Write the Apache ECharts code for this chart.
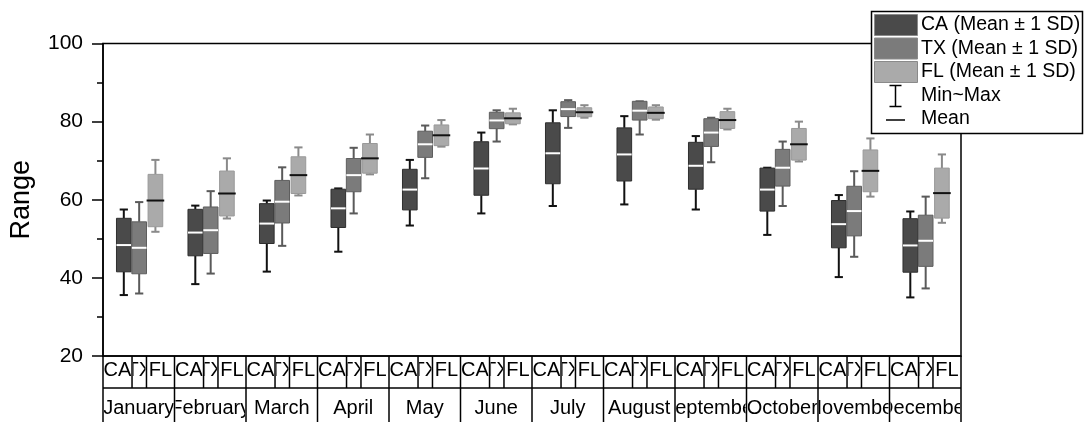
<!DOCTYPE html>
<html><head><meta charset="utf-8">
<script src="https://cdn.jsdelivr.net/npm/echarts@6/dist/echarts.min.js"></script>
<style>html,body{margin:0;padding:0;background:#fff}#c{width:1084px;height:422px}</style>
</head><body><div id="c"></div>
<script>
// ---- data ----
const months = ['January','February','March','April','May','June','July','August','September','October','November','December'];
const groupLabels = ['CA','TX','FL'];
const seriesNames = ['CA (Mean \u00b1 1 SD)','TX (Mean \u00b1 1 SD)','FL (Mean \u00b1 1 SD)'];
const legendExtra = ['Min~Max','Mean'];
const yAxisName = 'Range';
const yTicks = [20, 40, 60, 80, 100];

const caMean = [48.4, 51.6, 53.9, 57.8, 62.6, 68.0, 71.9, 71.6, 68.7, 62.6, 53.75, 48.3];
const caSD   = [6.85, 5.95, 5.1, 4.9, 5.2, 6.85, 7.8, 6.8, 6.0, 5.5, 6.05, 6.85];
const caMin  = [35.6, 38.4, 41.6, 46.7, 53.4, 56.5, 58.4, 58.8, 57.5, 51.0, 40.2, 35.0];
const caMax  = [57.5, 58.5, 59.8, 62.9, 70.2, 77.2, 82.9, 81.4, 76.3, 68.2, 61.2, 57.0];

const txMean = [47.7, 52.2, 59.5, 66.3, 74.2, 80.3, 83.2, 82.8, 77.2, 68.2, 57.1, 49.5];
const txSD   = [6.65, 5.95, 5.45, 4.25, 3.35, 2.1, 1.9, 2.4, 3.55, 4.7, 6.35, 6.55];
const txMin  = [36.0, 41.1, 48.2, 56.5, 65.5, 74.9, 78.4, 76.7, 69.6, 58.4, 45.4, 37.3];
const txMax  = [59.4, 62.2, 68.3, 73.3, 79.0, 82.9, 85.5, 85.2, 81.0, 74.9, 67.3, 60.8];

const flMean = [59.8, 61.6, 66.3, 70.6, 76.5, 80.85, 82.4, 82.25, 80.4, 74.2, 67.4, 61.7];
const flSD   = [6.7, 5.75, 4.7, 3.8, 2.65, 1.4, 1.15, 1.5, 2.15, 4.05, 5.35, 6.4];
const flMin  = [51.8, 55.2, 61.1, 66.5, 73.6, 79.3, 81.0, 80.5, 78.0, 69.8, 60.8, 54.1];
const flMax  = [70.2, 70.6, 73.4, 76.7, 80.4, 83.3, 84.2, 84.2, 83.3, 80.0, 75.7, 71.6];

// ---- styling / layout constants ----
const FONT = '"Liberation Sans", Arial, sans-serif';
const OFFS = [-0.209, 0.006, 0.233];      // box centre offset as fraction of band
const BOXW = 0.205;                       // box width fraction of band
const CAPW = 0.115;                       // whisker cap width fraction of band
const SPLIT = [0.406, 0.608];             // sub-cell dividers in the category table
const FILL = ['#4a4a4a', '#7b7b7b', '#aaaaaa'];
const EDGE = ['#2e2e2e', '#5e5e5e', '#999999'];
const WHISK = ['#111111', '#5a5a5a', '#8a8a8a'];
const MEANC = ['#ffffff', '#ffffff', '#111111'];
const ROW1 = 32, BOTTOM = 422;

const sets = [
  [caMean, caSD, caMin, caMax],
  [txMean, txSD, txMin, txMax],
  [flMean, flSD, flMin, flMax]
];

function boxRender(k) {
  return function (params, api) {
    const i = api.value(0);
    const mean = api.value(1), sd = api.value(2), mn = api.value(3), mx = api.value(4);
    const band = api.size([1, 0])[0];
    const pm = api.coord([i, mean]);
    const cx = pm[0] + band * OFFS[k];
    const yMean = pm[1];
    const yTop = api.coord([i, mean + sd])[1];
    const yBot = api.coord([i, mean - sd])[1];
    const yMax = api.coord([i, mx])[1];
    const yMin = api.coord([i, mn])[1];
    const w = band * BOXW, cap = band * CAPW;
    const ls = { stroke: WHISK[k], lineWidth: 2 };
    const ext = k === 2 ? 1.5 : 0;
    return {
      type: 'group',
      children: [
        { type: 'line', shape: { x1: cx, y1: yMax, x2: cx, y2: yTop }, style: ls },
        { type: 'line', shape: { x1: cx - cap / 2, y1: yMax, x2: cx + cap / 2, y2: yMax }, style: ls },
        { type: 'line', shape: { x1: cx, y1: yBot, x2: cx, y2: yMin }, style: ls },
        { type: 'line', shape: { x1: cx - cap / 2, y1: yMin, x2: cx + cap / 2, y2: yMin }, style: ls },
        { type: 'rect', shape: { x: cx - w / 2, y: yTop, width: w, height: yBot - yTop },
          style: { fill: FILL[k], stroke: EDGE[k], lineWidth: 1 } },
        { type: 'line', shape: { x1: cx - w / 2 - ext, y1: yMean, x2: cx + w / 2 + ext, y2: yMean },
          style: { stroke: MEANC[k], lineWidth: 2 } }
      ]
    };
  };
}

function clippedText(text, x, y, w, h, cy, size) {
  return {
    type: 'group',
    clipPath: { type: 'rect', shape: { x: x, y: y, width: w, height: h } },
    children: [{
      type: 'text',
      style: { text: text, x: x + w / 2, y: cy, align: 'center', verticalAlign: 'middle',
               font: size + 'px ' + FONT, fill: '#000' }
    }]
  };
}

function tableRender(params, api) {
  const i = api.value(0);
  const band = api.size([1, 0])[0];
  const c = api.coord([i, yTicks[0]]);
  const x0 = c[0] - band / 2, x1 = c[0] + band / 2;
  const yA = c[1], yB = yA + ROW1, yC = BOTTOM;
  const b1 = x0 + band * SPLIT[0], b2 = x0 + band * SPLIT[1];
  const ls = { stroke: '#000', lineWidth: 1.5 };
  const ch = [
    { type: 'line', shape: { x1: x0, y1: yA, x2: x0, y2: yC }, style: ls },
    { type: 'line', shape: { x1: b1, y1: yA, x2: b1, y2: yB }, style: ls },
    { type: 'line', shape: { x1: b2, y1: yA, x2: b2, y2: yB }, style: ls },
    { type: 'line', shape: { x1: x0, y1: yB, x2: x1, y2: yB }, style: ls }
  ];
  if (i === months.length - 1) {
    ch.push({ type: 'line', shape: { x1: x1, y1: yA, x2: x1, y2: yC }, style: ls });
  }
  const cells = [[x0, b1], [b1, b2], [b2, x1]];
  cells.forEach(function (cl, k) {
    ch.push(clippedText(groupLabels[k], cl[0] + 1, yA + 1, cl[1] - cl[0] - 2, ROW1 - 2, yA + 14.5, 20));
  });
  ch.push(clippedText(months[i], x0 + 1, yB + 1, band - 2, yC - yB - 1, yB + 20, 20));
  return { type: 'group', children: ch };
}

const series = sets.map(function (s, k) {
  return {
    name: seriesNames[k],
    type: 'custom',
    renderItem: boxRender(k),
    encode: { x: 0, y: [1] },
    data: months.map(function (m, i) { return [i, s[0][i], s[1][i], s[2][i], s[3][i]]; }),
    z: 3
  };
});
series.push({
  type: 'custom',
  name: 'table',
  renderItem: tableRender,
  data: months.map(function (m, i) { return [i]; }),
  encode: { x: 0 },
  silent: true,
  z: 2
});

// legend drawn as graphic
const LX = 871.5, LY = 11.5;
const LFONT = '19.5px ' + FONT;
const legendGraphic = [
  { type: 'rect', shape: { x: LX, y: LY, width: 211, height: 122 },
    style: { fill: '#fff', stroke: '#000', lineWidth: 1.5 }, z: 100 }
];
const swY = [14.5, 38, 61.5];
seriesNames.forEach(function (n, k) {
  legendGraphic.push({ type: 'rect', shape: { x: 874.5, y: swY[k], width: 43, height: 21 },
    style: { fill: FILL[k], stroke: '#8a8a8a', lineWidth: 1 }, z: 101 });
  legendGraphic.push({ type: 'text', style: { text: n, x: 921, y: swY[k] + 10.5, verticalAlign: 'middle',
    font: LFONT, fill: '#000' }, z: 101 });
});
legendGraphic.push({ type: 'line', shape: { x1: 895.5, y1: 85, x2: 895.5, y2: 107 }, style: { stroke: '#000', lineWidth: 1.5 }, z: 101 });
legendGraphic.push({ type: 'line', shape: { x1: 889.5, y1: 85.5, x2: 901.5, y2: 85.5 }, style: { stroke: '#000', lineWidth: 1.5 }, z: 101 });
legendGraphic.push({ type: 'line', shape: { x1: 889.5, y1: 106.5, x2: 901.5, y2: 106.5 }, style: { stroke: '#000', lineWidth: 1.5 }, z: 101 });
legendGraphic.push({ type: 'text', style: { text: legendExtra[0], x: 921, y: 96, verticalAlign: 'middle',
  font: LFONT, fill: '#000' }, z: 101 });
legendGraphic.push({ type: 'line', shape: { x1: 886, y1: 120, x2: 905, y2: 120 }, style: { stroke: '#000', lineWidth: 1.5 }, z: 101 });
legendGraphic.push({ type: 'text', style: { text: legendExtra[1], x: 921, y: 119, verticalAlign: 'middle',
  font: LFONT, fill: '#000' }, z: 101 });

const chart = echarts.init(document.getElementById('c'), null, { renderer: 'canvas' });
chart.setOption({
  animation: false,
  backgroundColor: '#fff',
  textStyle: { fontFamily: FONT },
  grid: { left: 102.5, right: 123, top: 43.5, bottom: 66, show: true, borderColor: '#000', borderWidth: 1.5, containLabel: false },
  xAxis: {
    type: 'category', data: months, boundaryGap: true,
    axisLine: { show: true, lineStyle: { color: '#000', width: 1.5 } },
    axisTick: { show: false }, axisLabel: { show: false }, splitLine: { show: false }
  },
  yAxis: {
    type: 'value', min: yTicks[0], max: yTicks[yTicks.length - 1], interval: yTicks[1] - yTicks[0],
    name: yAxisName, nameLocation: 'middle', nameGap: 68,
    nameTextStyle: { fontSize: 27, color: '#000', fontFamily: FONT },
    axisLine: { show: true, lineStyle: { color: '#000', width: 1.5 } },
    axisTick: { show: true, length: 11, lineStyle: { color: '#000', width: 1.5 } },
    minorTick: { show: true, splitNumber: 2, length: 6, lineStyle: { color: '#000', width: 1.5 } },
    axisLabel: { fontSize: 21, color: '#000', margin: 20, fontFamily: FONT },
    splitLine: { show: false }
  },
  series: series,
  graphic: legendGraphic
});
</script>
</body></html>
